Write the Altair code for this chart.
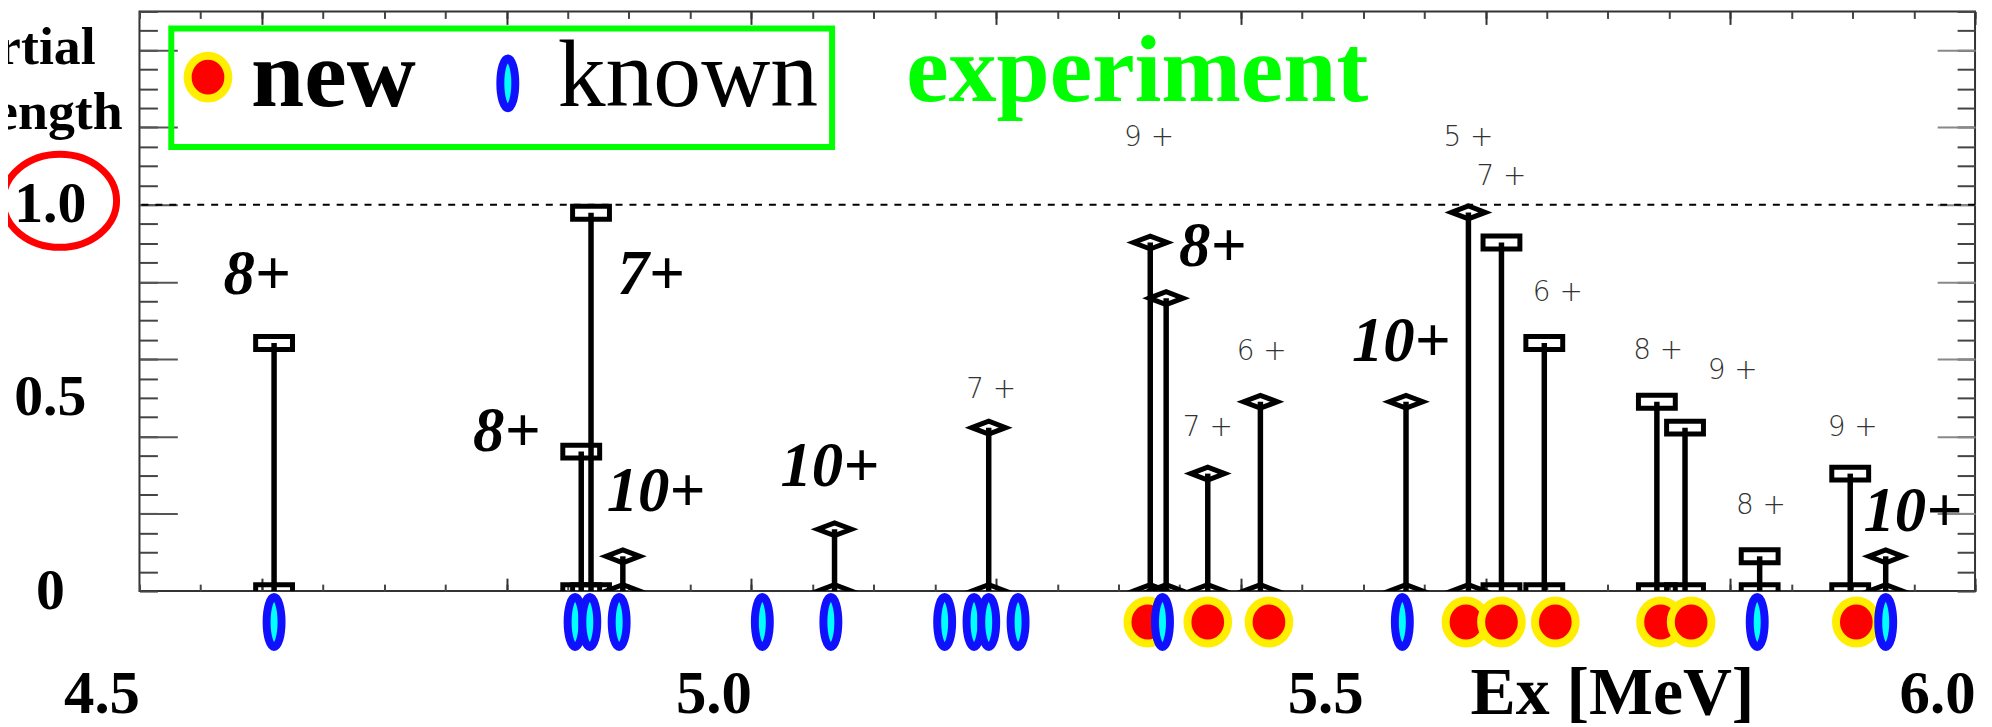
import altair as alt
import pandas as pd

# ---------------- data ----------------
stem_ex = [4.610, 4.861, 4.869, 4.895, 5.068, 5.194, 5.326, 5.339, 5.373, 5.416,
           5.535, 5.586, 5.613, 5.648, 5.740, 5.763, 5.824, 5.898, 5.927]
stem_strength = [0.642, 0.361, 0.979, 0.090, 0.160, 0.423, 0.902, 0.758, 0.304, 0.490,
                 0.490, 0.980, 0.902, 0.642, 0.490, 0.423, 0.090, 0.304, 0.090]
stem_marker = ["square", "square", "square", "diamond", "diamond", "diamond", "diamond",
               "diamond", "diamond", "diamond", "diamond", "diamond", "square", "square",
               "square", "square", "square", "square", "diamond"]

known_ex = [4.610, 4.856, 4.868, 4.892, 5.009, 5.065, 5.158, 5.182, 5.194, 5.218,
            5.336, 5.532, 5.822, 5.927]
new_ex = [5.324, 5.373, 5.423, 5.584, 5.613, 5.657, 5.743, 5.768, 5.903]

small_text = ["9+", "7+", "6+", "7+", "5+", "7+", "6+", "8+", "9+", "8+", "9+"]
small_x = [5.325, 5.196, 5.417, 5.373, 5.586, 5.613, 5.659, 5.741, 5.802, 5.825, 5.900]
small_y = [1.173, 0.521, 0.619, 0.423, 1.173, 1.072, 0.771, 0.621, 0.570, 0.219, 0.423]

big_text = ["8+", "7+", "8+", "10+", "10+", "8+", "10+", "10+"]
big_x = [4.596, 4.918, 4.800, 4.922, 5.064, 5.377, 5.531, 5.949]
big_y = [0.817, 0.817, 0.412, 0.255, 0.320, 0.889, 0.644, 0.204]

x_tick_labels = [4.5, 5.0, 5.5, 6.0]
y_tick_labels = [0, 0.5, 1.0]
x_minor = [round(4.5 + 0.05 * i, 2) for i in range(31)]
x_major = [4.6, 4.8, 5.0, 5.2, 5.4, 5.6, 5.8, 6.0]
y_minor = [round(0.05 * i, 2) for i in range(31)]
y_major = [0.2, 0.4, 0.6, 0.8, 1.0, 1.2, 1.4]

# annotation anchors (data units)
legend_box = {"x": 4.526, "x2": 5.066, "y": 1.456, "y2": 1.149}
legend_new = {"sx": 4.556, "sy": 1.330, "tx": 4.5912, "ty": 1.2552, "label": "new"}
legend_known = {"sx": 4.801, "sy": 1.314, "tx": 4.8418, "ty": 1.2552, "label": "known"}
experiment_anchor = {"x": 5.1267, "y": 1.268, "label": "experiment"}
xtitle_anchor = {"x": 5.7037, "y": -0.317, "label": "Ex [MeV]"}
ytitle_lines = [{"x": 4.4642, "y": 1.363, "label": "Partial"},
                {"x": 4.4862, "y": 1.196, "label": "strength"}]
circle_anchor = {"x": 4.4349, "y": 1.01}
state_row_y = -0.08
ref_line = 1.0

# ---------------- helpers ----------------
XS = alt.Scale(domain=[4.5, 6.0], nice=False, zero=False)
YS = alt.Scale(domain=[0, 1.5], nice=False, zero=False)


def ellipse(rx, ry):
    k = 0.5523
    return (f"M0,{-ry}C{k*rx},{-ry} {rx},{-k*ry} {rx},0"
            f"C{rx},{k*ry} {k*rx},{ry} 0,{ry}"
            f"C{-k*rx},{ry} {-rx},{k*ry} {-rx},0"
            f"C{-rx},{-k*ry} {-k*rx},{-ry} 0,{-ry}Z")


RECT = "M-1,-0.35L1,-0.35L1,0.35L-1,0.35Z"
DIAM = "M-1,0L0,-0.38L1,0L0,0.38Z"
RED_SHAPE = ellipse(0.95, 1.0)
BLUE_SHAPE = ellipse(0.3, 1.0)
RING_SHAPE = ellipse(1.0, 0.82)

SERIF = "Liberation Serif"


def X(field, axis=None):
    return alt.X(field, type="quantitative", scale=XS, axis=axis)


def Y(field, axis=None):
    return alt.Y(field, type="quantitative", scale=YS, axis=axis)


dummy = pd.DataFrame({"ex": [5.0], "s": [0.5]})


def tick_layer(ch, orient, vals, size, color):
    ax = alt.Axis(orient=orient, values=vals, tickSize=size, offset=-size,
                  domain=False, labels=False, grid=False, title=None,
                  ticks=True, tickColor=color, tickWidth=2)
    if ch == "x":
        enc = dict(x=X("ex", ax), y=Y("s"))
    else:
        enc = dict(x=X("ex"), y=Y("s", ax))
    return alt.Chart(dummy).mark_point(opacity=0).encode(**enc)


# ---------------- frames ----------------
stems = pd.DataFrame({"ex": stem_ex, "s": stem_strength, "m": stem_marker, "zero": 0.0})
known = pd.DataFrame({"ex": known_ex, "row": state_row_y})
new = pd.DataFrame({"ex": new_ex, "row": state_row_y})
small = pd.DataFrame({"ex": small_x, "s": small_y, "t": small_text})
big = pd.DataFrame({"ex": big_x, "s": big_y, "t": big_text})

shape_scale = alt.Scale(domain=["square", "diamond"], range=[RECT, DIAM])
size_scale = alt.Scale(domain=["square", "diamond"], range=[1369, 1156])

layers = []

# tick layers (inside ticks on all four sides)
layers += [
    tick_layer("x", "bottom", x_minor, 7, "#444"),
    tick_layer("x", "bottom", x_major, 13, "#333"),
    tick_layer("x", "top", x_minor, 7, "#444"),
    tick_layer("x", "top", x_major, 13, "#333"),
    tick_layer("y", "left", y_minor, 18, "#444"),
    tick_layer("y", "left", y_major, 38, "#555"),
    tick_layer("y", "right", y_minor, 18, "#444"),
    tick_layer("y", "right", y_major, 38, "#888"),
]

# label axes
x_label_axis = alt.Axis(orient="bottom", values=x_tick_labels, ticks=False, domain=False,
                        grid=False, title=None, labelFont=SERIF, labelFontSize=61,
                        labelFontWeight="bold", labelColor="black", labelAlign="right",
                        labelBaseline="alphabetic", labelPadding=122, labelFlush=False,
                        labelOverlap=False, labelExpr="format(datum.value, '.1f')")
y_label_axis = alt.Axis(orient="left", values=y_tick_labels, ticks=False, domain=False,
                        grid=False, title=None, labelFont=SERIF, labelFontSize=58,
                        labelFontWeight="bold", labelColor="black", labelAlign="center",
                        labelBaseline="middle", labelPadding=90, labelFlush=False,
                        labelOverlap=False,
                        labelExpr="datum.value == 0 ? '0' : format(datum.value, '.1f')")
layers.append(alt.Chart(dummy).mark_point(opacity=0).encode(x=X("ex", x_label_axis), y=Y("s")))
layers.append(alt.Chart(dummy).mark_point(opacity=0).encode(x=X("ex"), y=Y("s", y_label_axis)))

# dashed reference line
layers.append(alt.Chart(pd.DataFrame({"s": [ref_line]})).mark_rule(
    color="black", strokeWidth=2, strokeDash=[7, 7]).encode(y=Y("s")))

# stems
layers.append(alt.Chart(stems).mark_rule(color="black", strokeWidth=5.5).encode(
    x=X("ex"), y=Y("zero"), y2="s"))

# top markers
layers.append(alt.Chart(stems).mark_point(filled=False, stroke="black", strokeWidth=5,
                                          opacity=1).encode(
    x=X("ex"), y=Y("s"),
    shape=alt.Shape("m:N", scale=shape_scale, legend=None),
    size=alt.Size("m:N", scale=size_scale, legend=None)))

# base markers (clipped by the frame)
layers.append(alt.Chart(stems).mark_point(filled=False, stroke="black", strokeWidth=5,
                                          opacity=1, clip=True).encode(
    x=X("ex"), y=Y("zero"),
    shape=alt.Shape("m:N", scale=shape_scale, legend=None),
    size=alt.Size("m:N", scale=size_scale, legend=None)))

# state row: new (red/yellow) then known (blue/cyan)
layers.append(alt.Chart(new).mark_point(shape=RED_SHAPE, size=43 * 43, filled=True,
                                        fill="#ff0000", stroke="#ffee00", strokeWidth=8,
                                        opacity=1, fillOpacity=1, strokeOpacity=1).encode(
    x=X("ex"), y=Y("row")))
layers.append(alt.Chart(known).mark_point(shape=BLUE_SHAPE, size=50 * 50, filled=True,
                                          fill="#00ffff", stroke="#1010ff", strokeWidth=8,
                                          opacity=1, fillOpacity=1, strokeOpacity=1).encode(
    x=X("ex"), y=Y("row")))

# small spin labels
layers.append(alt.Chart(small).transform_calculate(
    lab="replace(datum.t, '+', '  +')").mark_text(
    font="DejaVu Sans", fontSize=28, fontWeight=200, color="#333",
    align="center", baseline="middle").encode(x=X("ex"), y=Y("s"), text="lab:N"))

# big italic labels
layers.append(alt.Chart(big).mark_text(
    font=SERIF, fontSize=63, fontWeight="bold", fontStyle="italic", color="black",
    align="center", baseline="middle").encode(x=X("ex"), y=Y("s"), text="t:N"))

# legend box
layers.append(alt.Chart(pd.DataFrame([legend_box])).mark_rect(
    fillOpacity=0, stroke="#00ff00", strokeWidth=6).encode(
    x=X("x"), x2="x2", y=Y("y"), y2="y2"))
layers.append(alt.Chart(pd.DataFrame([legend_new])).mark_point(
    shape=RED_SHAPE, size=43 * 43, filled=True, fill="#ff0000", stroke="#ffee00",
    strokeWidth=8, opacity=1, fillOpacity=1, strokeOpacity=1).encode(x=X("sx"), y=Y("sy")))
layers.append(alt.Chart(pd.DataFrame([legend_known])).mark_point(
    shape=BLUE_SHAPE, size=50 * 50, filled=True, fill="#00ffff", stroke="#1010ff",
    strokeWidth=8, opacity=1, fillOpacity=1, strokeOpacity=1).encode(x=X("sx"), y=Y("sy")))
layers.append(alt.Chart(pd.DataFrame([legend_new])).mark_text(
    font=SERIF, fontSize=96, fontWeight="bold", color="black", align="left",
    baseline="alphabetic").encode(x=X("tx"), y=Y("ty"), text="label:N"))
layers.append(alt.Chart(pd.DataFrame([legend_known])).mark_text(
    font=SERIF, fontSize=96, fontWeight="normal", color="black", align="left",
    baseline="alphabetic").encode(x=X("tx"), y=Y("ty"), text="label:N"))
layers.append(alt.Chart(pd.DataFrame([experiment_anchor])).mark_text(
    font=SERIF, fontSize=96, fontWeight="bold", color="#00ff00", align="left",
    baseline="alphabetic").encode(x=X("x"), y=Y("y"), text="label:N"))

# axis titles
layers.append(alt.Chart(pd.DataFrame([xtitle_anchor])).mark_text(
    font=SERIF, fontSize=68, fontWeight="bold", color="black", align="center",
    baseline="alphabetic").encode(x=X("x"), y=Y("y"), text="label:N"))
layers.append(alt.Chart(pd.DataFrame(ytitle_lines)).mark_text(
    font=SERIF, fontSize=54, fontWeight="bold", color="black", align="right",
    baseline="alphabetic").encode(x=X("x"), y=Y("y"), text="label:N"))

# red ring around 1.0
layers.append(alt.Chart(pd.DataFrame([circle_anchor])).mark_point(
    shape=RING_SHAPE, size=114 * 114, filled=False, stroke="#ff0000", strokeWidth=7,
    opacity=1).encode(x=X("x"), y=Y("y")))

chart = alt.layer(*layers).resolve_axis(x="independent", y="independent").properties(
    width=1843, height=582,
    autosize=alt.AutoSizeParams(type="none"),
    padding={"left": 132, "top": 2, "right": 9, "bottom": 133},
    background="white",
).configure_view(stroke="#333", strokeWidth=2)

chart.save("out.html", embed_options={"renderer": "svg", "actions": False})
